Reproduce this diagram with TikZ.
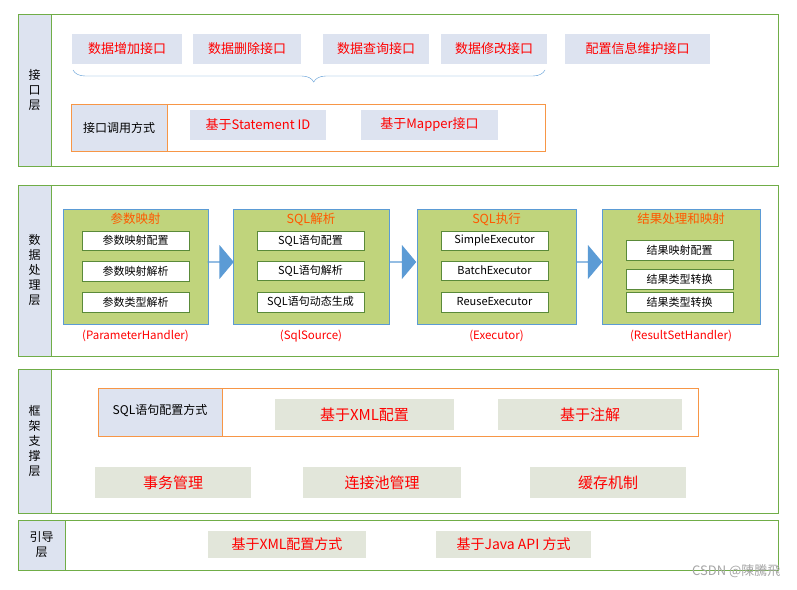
\documentclass[tikz,border=0pt]{standalone}
\usepackage{fontspec}
\setmainfont{Noto Sans CJK SC}
\usetikzlibrary{decorations.pathreplacing,shapes.arrows}
\definecolor{lb}{HTML}{DDE3F0}
\definecolor{gb}{HTML}{70AD47}
\definecolor{og}{HTML}{F79646}
\definecolor{gf}{HTML}{C0D47C}
\definecolor{bl}{HTML}{5B9BD5}
\definecolor{gy}{HTML}{E2E6DA}
\begin{document}
\begin{tikzpicture}[x=1pt,y=-1pt,
 layer/.style={draw=gb,line width=0.8pt},
 lab/.style={draw=gb,fill=lb,line width=0.8pt},
 rb/.style={fill=lb,text=red,font=\fontsize{13}{15}\selectfont},
 gbk/.style={fill=gy,text=red,font=\fontsize{15}{17}\selectfont},
 blk/.style={draw=bl,fill=gf,line width=0.8pt},
 wb/.style={draw=gb!80!black,fill=white,font=\fontsize{11}{13}\selectfont},
 bt/.style={text=orange!70!red,font=\fontsize{12.5}{14}\selectfont},
 rt/.style={text=red,font=\fontsize{11.5}{13}\selectfont},
 ar/.style={single arrow,draw=none,fill=bl,minimum height=26pt,minimum width=34pt,single arrow head extend=6pt,inner sep=0pt,single arrow tip angle=100},
 lt/.style={font=\fontsize{12}{15}\selectfont,align=center}]
\useasboundingbox (0,0) rectangle (797,589);
\fill[white] (0,0) rectangle (797,589);
% layer 1
\draw[layer] (18,14) rectangle (778,166);
\draw[lab] (18,14) rectangle (51,166);
\node[lt] (l1) at (34.5,90) {接\\口\\层};
\foreach \a/\b/\t [count=\i] in {72/182/数据增加接口,193/301/数据删除接口,323/429/数据查询接口,441/547/数据修改接口,565/710/配置信息维护接口}
  \node[rb,minimum width=\b-\a,minimum height=30,inner sep=0] (t\i) at ({(\a+\b)/2},49) {\t};
\draw[bl,decorate,decoration={brace,mirror,amplitude=12pt,aspect=0.51}] (73,70) -- (545,70);
\draw[og,line width=0.8pt] (71,104) rectangle (545,151);
\draw[og,fill=lb,line width=0.8pt] (71,104) rectangle (167,151);
\node[font=\fontsize{12}{14}\selectfont] (cm) at (119,127.5) {接口调用方式};
\node[rb,minimum width=136,minimum height=30,inner sep=0] (c1) at (258,125) {基于Statement ID};
\node[rb,minimum width=137,minimum height=30,inner sep=0] (c2) at (429.5,125) {基于Mapper接口};
% layer 2
\draw[layer] (18,185) rectangle (778,356);
\draw[lab] (18,185) rectangle (51,356);
\node[lt] (l2) at (34.5,270) {数\\据\\处\\理\\层};
\foreach \a/\b/\t/\c [count=\i] in {63/208/参数映射/(ParameterHandler),233/389/SQL解析/(SqlSource),417/576/SQL执行/(Executor),602/760/结果处理和映射/(ResultSetHandler)}{
  \draw[blk] (\a,209) rectangle (\b,324);
  \node[bt] (h\i) at ({(\a+\b)/2},219) {\t};
  \node[rt] (r\i) at ({(\a+\b)/2},336) {\c};
}
\foreach \x/\y/\t [count=\i] in {135.5/240.5/参数映射配置,135.5/271/参数映射解析,135.5/302/参数类型解析,310.5/240.5/SQL语句配置,310.5/270.5/SQL语句解析,310.5/302/SQL语句动态生成,494.5/240.5/SimpleExecutor,494.5/270.5/BatchExecutor,494.5/302/ReuseExecutor,679.5/250/结果映射配置,679.5/279/结果类型转换,679.5/302/结果类型转换}
  \node[wb,minimum width=107,minimum height=19.5,inner sep=0] (w\i) at (\x,\y) {\t};
\node[ar] (a1) at (220.5,262) {};
\node[ar] (a2) at (403,262) {};
\node[ar] (a3) at (589,262) {};
% layer 3
\draw[layer] (18,369) rectangle (778,513);
\draw[lab] (18,369) rectangle (51,513);
\node[lt] (l3) at (34.5,441) {框\\架\\支\\撑\\层};
\draw[og,line width=0.8pt] (98,388) rectangle (698,436);
\draw[og,fill=lb,line width=0.8pt] (98,388) rectangle (222,436);
\node[font=\fontsize{12}{14}\selectfont] (sm) at (160,411) {SQL语句配置方式};
\node[gbk,minimum width=179,minimum height=31,inner sep=0] (x1) at (364.5,414.5) {基于XML配置};
\node[gbk,minimum width=184,minimum height=31,inner sep=0] (x2) at (590,414.5) {基于注解};
\node[gbk,minimum width=156,minimum height=31,inner sep=0] (y1) at (173,482.5) {事务管理};
\node[gbk,minimum width=158,minimum height=31,inner sep=0] (y2) at (382,482.5) {连接池管理};
\node[gbk,minimum width=156,minimum height=31,inner sep=0] (y3) at (608,482.5) {缓存机制};
% layer 4
\draw[layer] (18,520) rectangle (778,570);
\draw[lab] (18,520) rectangle (65,570);
\node[lt] (l4) at (41.5,545) {引导\\层};
\node[gbk,minimum width=158,minimum height=27,inner sep=0,font=\fontsize{14}{16}\selectfont] (z1) at (287,544.5) {基于XML配置方式};
\node[gbk,minimum width=155,minimum height=27,inner sep=0,font=\fontsize{14}{16}\selectfont] (z2) at (513.5,544.5) {基于Java API 方式};
\node[text=gray!70,font=\fontsize{13}{15}\selectfont,anchor=east] (wm) at (784,571) {CSDN @陳騰飛};
\end{tikzpicture}
\end{document}
